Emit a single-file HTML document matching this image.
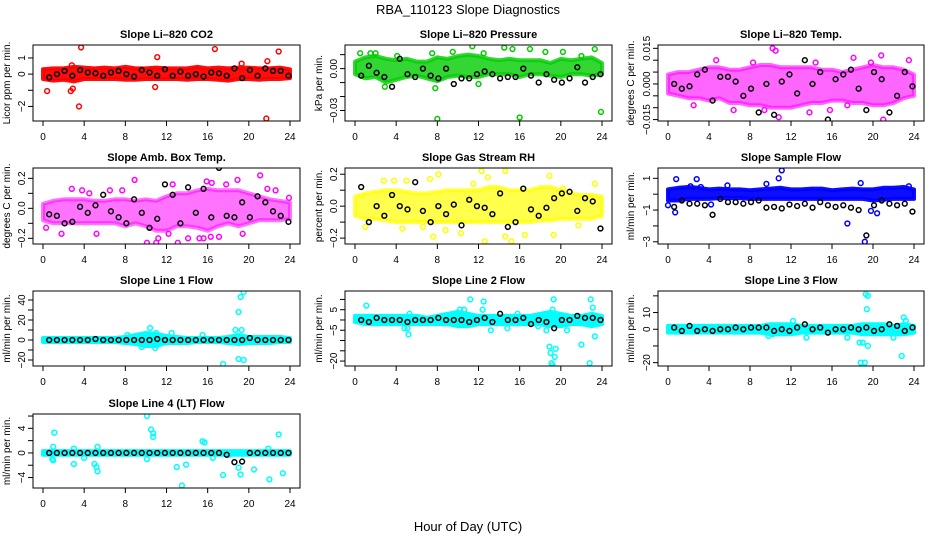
<!DOCTYPE html>
<html><head><meta charset="utf-8"><style>
html,body{margin:0;padding:0;background:#fff}
svg{display:block;font-family:"Liberation Sans",Arial,sans-serif}
</style></head><body>
<svg id="chart" width="936" height="540" viewBox="0 0 936 540" xmlns="http://www.w3.org/2000/svg">
<text x="468" y="14" text-anchor="middle" font-size="13">RBA_110123  Slope Diagnostics</text>
<text x="468" y="531" text-anchor="middle" font-size="13">Hour of Day (UTC)</text>
</svg>
<script>
// ---- shared data ----
const bandHours = [0,1,2,3,4,5,6,7,8,9,10,11,12,13,14,15,16,17,18,19,20,21,22,23,24];
const blackHours = [0.6,1.35,2.1,2.85,3.6,4.35,5.1,5.85,6.6,7.35,8.1,8.85,9.6,10.35,11.1,11.85,12.6,13.35,14.1,14.85,15.6,16.35,17.1,17.85,18.6,19.35,20.1,20.85,21.6,22.35,23.1,23.85];
const xTicks = [0,4,8,12,16,20,24];

// ---- panel 1: CO2 ----
const co2Lo = [-0.3,-0.4,-0.35,-0.45,-0.3,-0.3,-0.3,-0.3,-0.35,-0.35,-0.3,-0.3,-0.3,-0.3,-0.35,-0.3,-0.3,-0.35,-0.4,-0.3,-0.3,-0.35,-0.3,-0.3,-0.25];
const co2Hi = [0.3,0.35,0.35,0.45,0.4,0.35,0.4,0.35,0.45,0.35,0.35,0.4,0.35,0.35,0.35,0.45,0.35,0.4,0.35,0.4,0.4,0.35,0.35,0.4,0.3];
const co2OutX = [0.4,2.7,2.9,3.7,3.5,11.1,10.9,16.7,21.8,22.9,21.7,19.3,2.8];
const co2OutY = [-1.05,-1.05,-0.9,1.65,-2.0,1.05,-0.8,1.55,0.8,1.4,-2.75,0.65,0.55];
const co2Black = [-0.2,0.0,0.2,-0.1,0.25,0.1,0.05,-0.1,0.1,0.2,0.0,-0.15,0.25,0.1,-0.1,0.3,-0.1,0.15,-0.1,0.0,-0.15,0.1,0.05,-0.1,0.35,-0.25,0.25,-0.1,0.35,0.2,0.2,-0.1];
const co2Ticks = [-2,-1,0,1];
const co2Labels = ["-2","","0","1"];

// ---- panel 2: Pressure ----
const presLo = [-0.004,-0.007,-0.006,-0.01,-0.008,-0.006,-0.005,-0.007,-0.009,-0.006,-0.005,-0.006,-0.006,-0.004,-0.004,-0.004,-0.006,-0.004,-0.004,-0.005,-0.006,-0.004,-0.004,-0.005,-0.004];
const presHi = [0.005,0.008,0.009,0.007,0.006,0.007,0.005,0.005,0.008,0.007,0.009,0.01,0.009,0.007,0.006,0.007,0.006,0.006,0.006,0.004,0.007,0.006,0.007,0.008,0.004];
const presOutX = [8,16,23.9,11.4,14.5,23.3,15.3,17,0.5,1.5,2,4.1,7.5,9.5,12.5,18.5,20.2,22,2.9,7.8,12];
const presOutY = [-0.036,-0.035,-0.031,0.016,0.015,0.014,0.014,0.014,0.011,0.011,0.011,0.009,0.011,0.012,0.011,0.012,0.012,0.009,-0.013,-0.014,-0.011];
const presBlack = [-0.005,0.002,-0.003,-0.006,-0.013,0.007,-0.004,-0.006,0.0,-0.005,-0.007,0.0,-0.011,-0.007,-0.007,-0.004,-0.002,-0.004,-0.007,-0.006,-0.006,0.0,-0.005,-0.010,-0.004,-0.008,-0.010,-0.007,0.001,-0.010,-0.006,-0.004];
const presTicks = [-0.03,-0.02,-0.01,0,0.01];
const presLabels = ["-0.03","","","0.00",""];

// ---- panel 3: Li-820 Temp ----
const ltLo = [-0.004,-0.005,-0.006,-0.006,-0.007,-0.006,-0.008,-0.008,-0.009,-0.009,-0.01,-0.01,-0.01,-0.009,-0.008,-0.008,-0.007,-0.007,-0.008,-0.008,-0.009,-0.009,-0.008,-0.006,-0.005];
const ltHi = [0.004,0.005,0.005,0.006,0.007,0.007,0.006,0.006,0.007,0.008,0.008,0.007,0.007,0.007,0.007,0.006,0.006,0.005,0.006,0.007,0.008,0.007,0.007,0.006,0.004];
const ltOutX = [10.2,10.5,10.8,13.8,19.8,20.8,21,18.1,23.5,15.8,17.5,2.5,6.4,9.4,14.4,4.7,8.3];
const ltOutY = [0.015,0.014,-0.014,-0.012,0.009,0.012,-0.015,0.011,0.010,-0.011,-0.009,-0.009,-0.011,-0.011,0.009,0.010,0.009];
const ltBlack = [0.0,-0.002,-0.001,0.004,0.006,-0.007,0.003,0.003,0.001,-0.005,-0.002,-0.012,0.0,-0.013,0.001,0.004,-0.004,0.01,0.0,0.005,-0.015,0.002,0.004,0.006,-0.002,-0.011,0.005,0.002,-0.012,-0.005,0.005,-0.001];
const ltTicks = [-0.015,-0.01,-0.005,0,0.005,0.01,0.015];
const ltLabels = ["-0.015","","","0.000","","","0.015"];

// ---- panel 4: Amb Box Temp ----
const abLo = [-0.08,-0.1,-0.1,-0.1,-0.1,-0.1,-0.1,-0.1,-0.12,-0.1,-0.12,-0.15,-0.15,-0.12,-0.12,-0.13,-0.15,-0.12,-0.1,-0.12,-0.1,-0.08,-0.08,-0.08,-0.07];
const abHi = [0.03,0.05,0.06,0.06,0.06,0.05,0.05,0.06,0.06,0.05,0.06,0.05,0.08,0.1,0.1,0.12,0.13,0.12,0.12,0.12,0.1,0.08,0.06,0.05,0.04];
const abOutX = [0.3,1.8,2.8,3.8,4.5,6.5,7.7,8.9,10.1,11,13.1,12.6,14.1,15.2,15.6,16.3,17.1,15.9,16.4,18.9,19.4,21.1,21.8,22.6,23.9,5.2,11.2,12.2,17.8];
const abOutY = [-0.13,-0.17,0.13,0.12,0.1,0.12,0.12,0.19,-0.23,-0.23,-0.23,0.16,-0.2,-0.2,-0.2,-0.19,-0.19,0.18,0.17,0.19,-0.17,0.22,0.13,0.12,0.07,-0.17,-0.2,-0.17,0.16];
const abBlack = [-0.04,-0.05,-0.1,-0.09,0.01,-0.03,0.02,0.09,-0.02,-0.06,-0.1,0.06,-0.03,-0.13,-0.07,0.16,0.09,-0.1,0.14,-0.03,0.13,-0.06,0.27,-0.05,-0.06,0.04,-0.06,0.08,0.04,-0.02,-0.05,-0.09];
const abTicks = [-0.2,-0.1,0,0.1,0.2];
const abLabels = ["-0.2","","0.0","","0.2"];

// ---- panel 5: Gas Stream RH ----
const rhLo = [-0.06,-0.08,-0.08,-0.09,-0.1,-0.1,-0.1,-0.1,-0.1,-0.1,-0.1,-0.1,-0.1,-0.1,-0.1,-0.1,-0.1,-0.1,-0.09,-0.09,-0.08,-0.08,-0.08,-0.08,-0.06];
const rhHi = [0.06,0.08,0.09,0.1,0.1,0.09,0.08,0.08,0.09,0.1,0.1,0.1,0.1,0.12,0.12,0.1,0.1,0.1,0.12,0.12,0.1,0.08,0.07,0.07,0.06];
const rhOutX = [2.8,3.8,5,7.3,8.1,7.6,8.8,10.3,12.3,12.6,12.9,14.6,14.6,15.2,16.5,19.3,18.9,20.2,21.7,23.3,11.5,1,4.6,6.6];
const rhOutY = [0.16,0.16,0.16,0.17,0.2,-0.19,-0.15,-0.17,0.22,-0.22,0.18,0.22,-0.19,-0.22,-0.18,-0.18,0.19,0.11,-0.12,0.14,0.14,-0.13,-0.14,-0.13];
const rhBlack = [0.12,-0.1,0.0,-0.06,0.07,0.0,-0.02,0.15,-0.03,-0.1,0.0,-0.05,0.01,-0.12,0.04,0.0,-0.01,-0.05,0.08,-0.13,-0.1,0.11,-0.02,-0.06,-0.01,0.05,0.08,0.09,-0.03,0.05,0.03,-0.14];
const rhTicks = [-0.2,-0.1,0,0.1,0.2];
const rhLabels = ["-0.2","","0.0","","0.2"];

// ---- panel 6: Sample Flow ----
const sfLo = [-0.4,-0.4,-0.3,-0.3,-0.3,-0.25,-0.25,-0.25,-0.3,-0.3,-0.3,-0.3,-0.3,-0.3,-0.3,-0.3,-0.3,-0.3,-0.3,-0.3,-0.4,-0.35,-0.3,-0.3,-0.3];
const sfHi = [0.3,0.4,0.45,0.4,0.3,0.35,0.3,0.3,0.25,0.3,0.35,0.4,0.3,0.3,0.35,0.35,0.25,0.3,0.35,0.3,0.3,0.4,0.4,0.45,0.3];
const sfOutX = [0.8,0.7,2.2,2.8,3.2,4.2,5.8,9.6,10.8,11.1,17.5,18.8,19.2,19.8,20.4,23.5,0];
const sfOutY = [0.95,-1.15,0.5,0.95,0.45,-0.65,0.55,0.65,1.0,1.5,-1.85,0.7,-3.0,-1.05,-1.2,0.5,-0.7];
const sfBlack = [-0.8,-0.4,-0.6,-0.6,-0.7,-1.3,-0.3,-0.5,-0.5,-0.6,-0.5,-0.4,-0.85,-0.8,-0.9,-0.65,-0.75,-0.6,-0.85,-0.5,-0.7,-0.8,-0.7,-0.85,-1.0,-2.6,-0.7,-0.4,-0.6,-0.7,-0.6,-1.1];
const sfTicks = [-3,-2,-1,0,1];
const sfLabels = ["-3","","-1","","1"];

// ---- panel 7: Line 1 Flow ----
const l1Lo = [-2,-2,-2,-2,-2,-2,-2,-2,-3,-4,-6,-6,-3,-3,-3,-2,-2,-2,-3,-4,-3,-3,-3,-2,-2];
const l1Hi = [2,2,2,2,2,2,2,2,3,5,7,6,4,3,2,2,2,2,3,5,3,3,3,3,2];
const l1OutX = [10.4,11,12.5,17.5,18.7,19,19.2,19.5,19,19.5,19.3,15.5,8.2,9.6,10.9];
const l1OutY = [12,7,7,-24,10,28,43,48,-19,-20,10,5,5,-7,-8];
const l1Black = [0,0,0,0,0,0,1,0,0,0,0,0,0,0,1,0,0,0,0,0,0,0,0,0,0,0,2,0,0,0,0,0];
const l1Ticks = [-20,-10,0,10,20,30,40];
const l1Labels = ["-20","","0","","20","","40"];

// ---- panel 8: Line 2 Flow ----
const l2Lo = [-1,-2,-2,-2,-2,-2,-2,-2,-2,-2,-3,-3,-2,-2,-2,-2,-2,-2,-2,-3,-3,-2,-2,-3,-2];
const l2Hi = [2,2,2,2,2,2,2,1,2,3,4,3,2,2,2,2,2,2,3,4,3,2,2,3,2];
const l2OutX = [1.1,4.8,5.1,5.2,5.3,10.2,10.6,11.2,12.5,12.4,13.2,14.8,15.8,17.8,18.6,18.9,19,19.1,19.2,19.5,19.4,19.3,19.2,20.6,22,22.8,22.9,23.1,23.3];
const l2OutY = [7,-4,-4,-7,3,5,5,10,9,5,-5,-4,3,-3,-5,-13,-16,-21,-22,-14,-18,10,5,-5,-12,-21,10,6,-8];
const l2Black = [0,-1,1,0,0,0,-1,0,0,0,1,0,0,0,-1,0,1,-1,3,0,0,1,-2,0,-1,-4,0,0,2,1,1,0];
const l2Ticks = [-20,-15,-10,-5,0,5,10];
const l2Labels = ["-20","","","-5","","5",""];

// ---- panel 9: Line 3 Flow ----
const l3Lo = [-2,-2,-2,-2,-2,-2,-2,-2,-2,-2,-3,-3,-3,-2,-2,-2,-2,-2,-2,-3,-3,-3,-3,-3,-2];
const l3Hi = [2,2,2,2,2,2,2,2,2,2,3,3,3,2,2,2,2,2,2,3,3,3,2,3,2];
const l3OutX = [9.8,10.2,12.2,13.5,17.5,18.7,18.8,19.2,19,19.3,19.5,19.4,19.5,22,22.8,23,23.2];
const l3OutY = [-4,-3,5,-5,-5,-8,-20,-20,-8,21,20,12,-10,-5,-16,7,5];
const l3Black = [1,-1,2,-1,0,-1,0,0,1,0,1,1,1,-1,0,-1,1,3,0,1,-2,0,0,1,0,1,-1,0,3,2,-1,1];
const l3Ticks = [-20,-10,0,10,20];
const l3Labels = ["-20","","0","10",""];

// ---- panel 10: Line 4 (LT) Flow ----
const l4Lo = [-0.3,-0.3,-0.3,-0.3,-0.3,-0.3,-0.3,-0.3,-0.3,-0.3,-0.3,-0.3,-0.3,-0.3,-0.3,-0.3,-0.3,-0.3,-0.3,-0.3,-0.3,-0.3,-0.3,-0.3,-0.3];
const l4Hi = [0.3,0.3,0.3,0.3,0.3,0.3,0.3,0.3,0.3,0.3,0.3,0.3,0.3,0.3,0.3,0.3,0.3,0.3,0.3,0.3,0.3,0.3,0.3,0.3,0.3];
const l4OutX = [1.0,1.1,0.9,1.0,3.0,3.0,4,5,5.2,5.3,5.3,10.1,10.1,10.5,10.7,10.7,13,13.5,13.9,15.5,15.7,16.5,17.5,19.0,19.2,20.5,21.9,22,22.9,23.3,18.1];
const l4OutY = [1.0,3.3,-1.0,-1.2,-1.8,0.7,-0.8,-1.8,-2.3,-3.0,1.0,6.0,-1.0,3.8,3.2,2.6,-2.3,-5.3,-1.9,1.9,1.7,-0.8,-3.6,-2.4,-3.5,-2.7,0.7,-4.3,3.0,-3.3,-0.3];
const l4Black = [0,0,0,0,0,0,0,0,0,0,0,0,0,0,0,0,0,0,0,0,0,0,0,-0.3,-1.5,-1.4,0,0,0,0,0,0];
const l4Ticks = [-4,-2,0,2,4,6];
const l4Labels = ["-4","","0","","4",""];

const cols = [{l:33,r:300,ylx:10},{l:345,r:612,ylx:322},{l:658,r:924,ylx:634}];
const rows = [{t:45,b:121},{t:168,b:244},{t:291,b:366},{t:414,b:488}];

const panels = [
 {name:'co2',title:'Slope Li\u2013820 CO2',ylab:'Licor ppm per min.',c:0,r:0,ymin:-2.9,ymax:1.8,col:'#ff0000',op:0.95,lo:co2Lo,hi:co2Hi,ox:co2OutX,oy:co2OutY,bk:co2Black,ticks:co2Ticks,labels:co2Labels},
 {name:'pressure',title:'Slope Li\u2013820 Pressure',ylab:'kPa per min.',c:1,r:0,ymin:-0.0375,ymax:0.0169,col:'#00cd00',op:0.8,lo:presLo,hi:presHi,ox:presOutX,oy:presOutY,bk:presBlack,ticks:presTicks,labels:presLabels},
 {name:'li820-temp',title:'Slope Li\u2013820 Temp.',ylab:'degrees C per min.',c:2,r:0,ymin:-0.0156,ymax:0.0164,col:'#ff00ff',op:0.6,lo:ltLo,hi:ltHi,ox:ltOutX,oy:ltOutY,bk:ltBlack,ticks:ltTicks,labels:ltLabels},
 {name:'amb-box-temp',title:'Slope Amb. Box Temp.',ylab:'degrees C per min.',c:0,r:1,ymin:-0.238,ymax:0.269,col:'#ff00ff',op:0.55,lo:abLo,hi:abHi,ox:abOutX,oy:abOutY,bk:abBlack,ticks:abTicks,labels:abLabels},
 {name:'gas-stream-rh',title:'Slope Gas Stream RH',ylab:'percent per min.',c:1,r:1,ymin:-0.237,ymax:0.239,col:'#ffff00',op:0.7,lo:rhLo,hi:rhHi,ox:rhOutX,oy:rhOutY,bk:rhBlack,ticks:rhTicks,labels:rhLabels},
 {name:'sample-flow',title:'Slope Sample Flow',ylab:'ml/min per min.',c:2,r:1,ymin:-3.14,ymax:1.65,col:'#0000ff',op:0.95,lo:sfLo,hi:sfHi,ox:sfOutX,oy:sfOutY,bk:sfBlack,ticks:sfTicks,labels:sfLabels},
 {name:'line1-flow',title:'Slope Line 1 Flow',ylab:'ml/min per min.',c:0,r:2,ymin:-26,ymax:49,col:'#00ffff',op:1,lo:l1Lo,hi:l1Hi,ox:l1OutX,oy:l1OutY,bk:l1Black,ticks:l1Ticks,labels:l1Labels},
 {name:'line2-flow',title:'Slope Line 2 Flow',ylab:'ml/min per min.',c:1,r:2,ymin:-22.4,ymax:14.1,col:'#00ffff',op:1,lo:l2Lo,hi:l2Hi,ox:l2OutX,oy:l2OutY,bk:l2Black,ticks:l2Ticks,labels:l2Labels},
 {name:'line3-flow',title:'Slope Line 3 Flow',ylab:'ml/min per min.',c:2,r:2,ymin:-22,ymax:22.9,col:'#00ffff',op:1,lo:l3Lo,hi:l3Hi,ox:l3OutX,oy:l3OutY,bk:l3Black,ticks:l3Ticks,labels:l3Labels},
 {name:'line4-flow',title:'Slope Line 4 (LT) Flow',ylab:'ml/min per min.',c:0,r:3,ymin:-5.7,ymax:6.33,col:'#00ffff',op:1,lo:l4Lo,hi:l4Hi,ox:l4OutX,oy:l4OutY,bk:l4Black,ticks:l4Ticks,labels:l4Labels}
];

const NS='http://www.w3.org/2000/svg';
const svg=document.getElementById('chart');
function mk(tag,attrs,parent){const e=document.createElementNS(NS,tag);for(const k in attrs)e.setAttribute(k,attrs[k]);parent.appendChild(e);return e;}

panels.forEach(p=>{
  const C=cols[p.c],R=rows[p.r];
  const x0=C.l+10,x1=C.r-10;
  const xs=h=>x0+(h/24)*(x1-x0);
  const ys=v=>R.b-(v-p.ymin)/(p.ymax-p.ymin)*(R.b-R.t);
  const g=mk('g',{},svg);
  
  
  const clipId='clip-'+p.name;
  const cp=mk('clipPath',{id:clipId},g);
  mk('rect',{x:C.l,y:R.t,width:C.r-C.l,height:R.b-R.t},cp);
  const pg=mk('g',{'clip-path':'url(#'+clipId+')'},g);
  let pts=[];
  bandHours.forEach((h,i)=>pts.push(xs(h).toFixed(1)+','+ys(p.hi[i]).toFixed(1)));
  for(let i=bandHours.length-1;i>=0;i--)pts.push(xs(bandHours[i]).toFixed(1)+','+ys(p.lo[i]).toFixed(1));
  const band=mk('polygon',{points:pts.join(' '),fill:p.col,'fill-opacity':p.op,stroke:p.col,'stroke-opacity':p.op,'stroke-width':4,'stroke-linejoin':'round'},pg);
  
  
  p.ox.forEach((h,i)=>{
    const c=mk('circle',{cx:xs(h),cy:ys(p.oy[i]),r:2.4,fill:'none',stroke:p.col,'stroke-width':1.5},pg);
    
    
  });
  blackHours.forEach((h,i)=>{
    const c=mk('circle',{cx:xs(h),cy:ys(p.bk[i]),r:2.4,fill:'none',stroke:'#000','stroke-width':1.5},pg);
    
    
  });
  const box=mk('rect',{x:C.l,y:R.t,width:C.r-C.l,height:R.b-R.t,fill:'none',stroke:'#000','stroke-width':1},g);
  
  
  xTicks.forEach(t=>{
    mk('line',{x1:xs(t),x2:xs(t),y1:R.b,y2:R.b+5,stroke:'#000'},g);
    const tx=mk('text',{x:xs(t),y:R.b+19,'text-anchor':'middle','font-size':10},g);
    tx.textContent=t;
    
    
  });
  p.ticks.forEach((t,i)=>{
    const y=ys(t);
    mk('line',{x1:C.l-5,x2:C.l,y1:y,y2:y,stroke:'#000'},g);
    if(p.labels[i]){
      const tx=mk('text',{x:C.l-8,y:y,'text-anchor':'middle','font-size':10,transform:'rotate(-90 '+(C.l-8)+' '+y+')'},g);
      tx.textContent=p.labels[i].replace('-','\u2212');
      
      
    }
  });
  const yl=mk('text',{x:C.ylx,y:(R.t+R.b)/2,'text-anchor':'middle','font-size':10,transform:'rotate(-90 '+C.ylx+' '+((R.t+R.b)/2)+')'},g);
  yl.textContent=p.ylab;
  
  
  const ti=mk('text',{x:(C.l+C.r)/2,y:R.t-7,'text-anchor':'middle','font-size':11,'font-weight':'bold'},g);
  ti.textContent=p.title;
  
  
});
</script>
</body></html>
